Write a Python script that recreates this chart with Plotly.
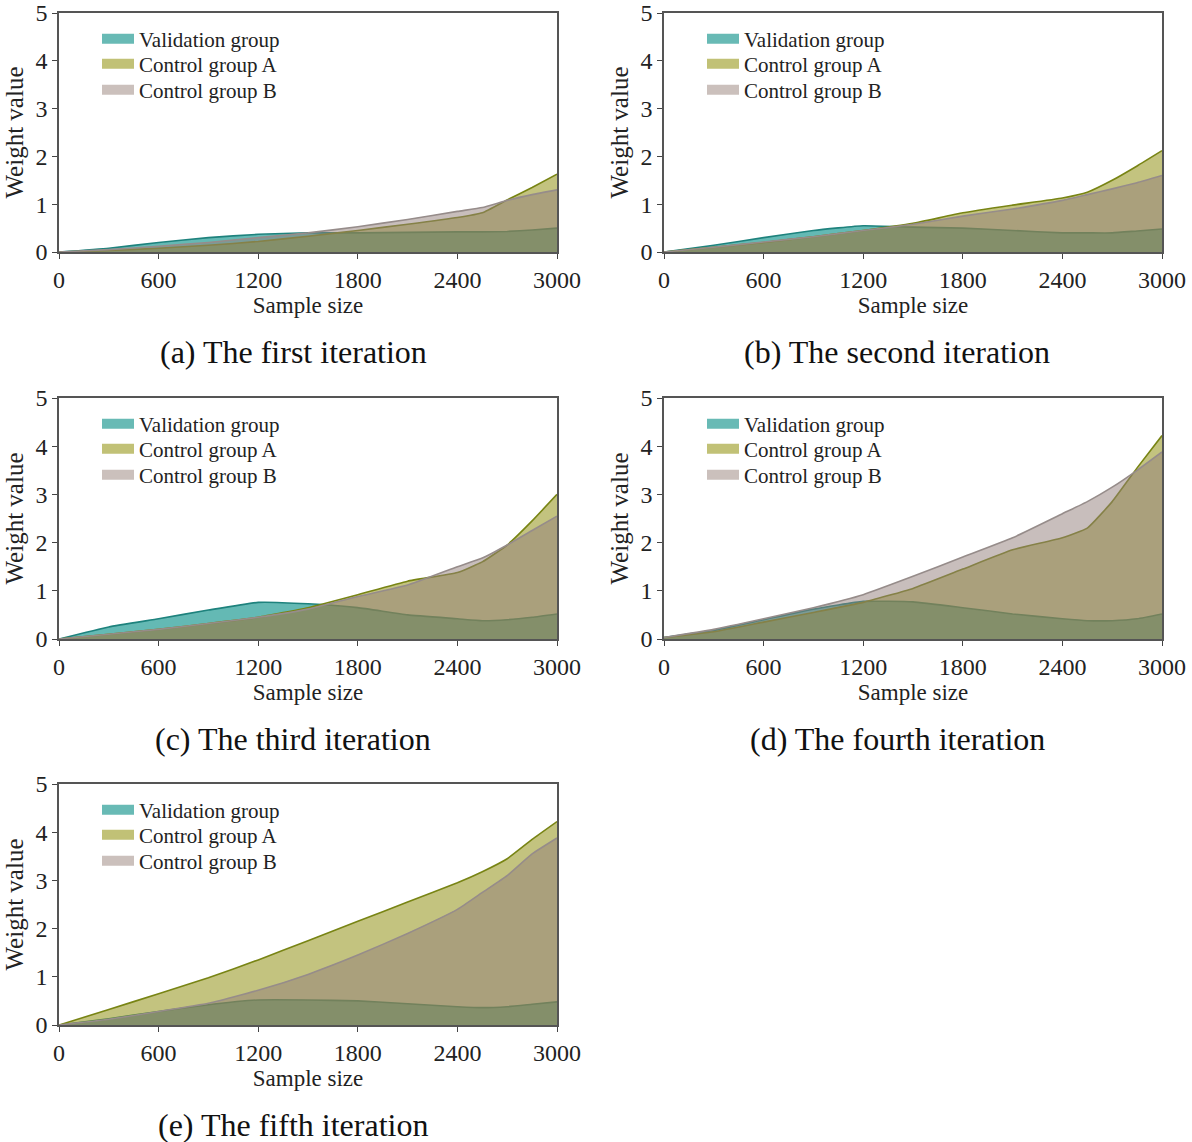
import plotly.graph_objects as go

# ---------------- data ----------------
sample_size = [0, 300, 600, 900, 1200, 1500, 1800, 2100, 2400, 2550, 2700, 2850, 3000]

series_names = ["Validation group", "Control group A", "Control group B"]

captions = ["(a) The first iteration", "(b) The second iteration", "(c) The third iteration",
            "(d) The fourth iteration", "(e) The fifth iteration"]

# (a) first iteration
val_1 = [0, 0.08, 0.20, 0.30, 0.37, 0.40, 0.40, 0.41, 0.42, 0.42, 0.43, 0.46, 0.50]
ctlA_1 = [0, 0.03, 0.08, 0.14, 0.22, 0.33, 0.45, 0.58, 0.72, 0.82, 1.09, 1.35, 1.63]
ctlB_1 = [0, 0.05, 0.12, 0.20, 0.30, 0.40, 0.53, 0.68, 0.85, 0.93, 1.08, 1.20, 1.30]

# (b) second iteration
val_2 = [0, 0.14, 0.30, 0.45, 0.55, 0.52, 0.50, 0.45, 0.40, 0.40, 0.40, 0.44, 0.48]
ctlA_2 = [0, 0.10, 0.20, 0.32, 0.45, 0.60, 0.82, 0.98, 1.13, 1.25, 1.50, 1.80, 2.12]
ctlB_2 = [0, 0.10, 0.21, 0.32, 0.45, 0.58, 0.75, 0.90, 1.08, 1.20, 1.32, 1.45, 1.60]

# (c) third iteration
val_3 = [0, 0.25, 0.42, 0.60, 0.76, 0.73, 0.65, 0.50, 0.42, 0.38, 0.40, 0.45, 0.52]
ctlA_3 = [0, 0.10, 0.20, 0.32, 0.45, 0.65, 0.92, 1.20, 1.38, 1.60, 1.95, 2.45, 3.00]
ctlB_3 = [0, 0.10, 0.20, 0.32, 0.45, 0.62, 0.88, 1.12, 1.50, 1.68, 1.95, 2.25, 2.55]

# (d) fourth iteration
val_4 = [0.03, 0.18, 0.40, 0.62, 0.78, 0.77, 0.65, 0.52, 0.42, 0.38, 0.38, 0.42, 0.52]
ctlA_4 = [0.03, 0.15, 0.35, 0.55, 0.76, 1.05, 1.45, 1.85, 2.10, 2.30, 2.85, 3.55, 4.22]
ctlB_4 = [0.03, 0.20, 0.42, 0.65, 0.92, 1.30, 1.70, 2.10, 2.60, 2.85, 3.15, 3.50, 3.88]

# (e) fifth iteration
val_5 = [0, 0.13, 0.28, 0.42, 0.52, 0.52, 0.50, 0.44, 0.38, 0.36, 0.38, 0.43, 0.48]
ctlA_5 = [0, 0.32, 0.65, 0.98, 1.35, 1.75, 2.15, 2.55, 2.95, 3.18, 3.45, 3.85, 4.22]
ctlB_5 = [0, 0.12, 0.28, 0.45, 0.72, 1.05, 1.45, 1.90, 2.40, 2.75, 3.10, 3.55, 3.88]

x_ticks = [0, 600, 1200, 1800, 2400, 3000]
y_ticks = [0, 1, 2, 3, 4, 5]

panels = [
    (val_1, ctlA_1, ctlB_1),
    (val_2, ctlA_2, ctlB_2),
    (val_3, ctlA_3, ctlB_3),
    (val_4, ctlA_4, ctlB_4),
    (val_5, ctlA_5, ctlB_5),
]

# ---------------- style ----------------
W, H = 1192, 1142
FONT = "Liberation Serif"
fill_colors = ["rgba(17,148,140,0.65)", "rgba(135,135,0,0.5)", "rgba(145,125,121,0.5)"]
line_colors = ["rgb(30,130,125)", "rgb(120,132,20)", "rgb(150,140,138)"]
swatch_colors = ["rgb(104,186,181)", "rgb(193,193,118)", "rgb(203,192,188)"]

# plot-area pixel boxes (left, right, top, bottom)
boxes = [
    (59, 557, 13, 252),
    (664, 1162, 13, 252),
    (59, 557, 398, 639),
    (664, 1162, 398, 639),
    (59, 557, 784, 1025),
]
caption_pos = [(293, 352), (897, 352), (293, 739), (897, 739), (293, 1125)]
legend_row_offsets = [26, 51, 77]


def px_x(p):
    return p / W


def px_y(p):
    return 1 - p / H


fig = go.Figure()
layout = dict(
    width=W, height=H,
    margin=dict(l=0, r=0, t=0, b=0, autoexpand=False),
    paper_bgcolor="white", plot_bgcolor="white",
    font=dict(family=FONT, size=22, color="#222"),
    showlegend=True,
)

annotations = []
legend_idx = 0
for i, (vals, box) in enumerate(zip(panels, boxes)):
    n = i + 1
    xa = "x" if n == 1 else f"x{n}"
    ya = "y" if n == 1 else f"y{n}"
    l, r, t, b = box
    for k in range(3):
        fig.add_trace(go.Scatter(
            x=sample_size, y=vals[k], name=series_names[k],
            mode="lines", fill="tozeroy",
            fillcolor=fill_colors[k],
            line=dict(color=line_colors[k], width=1.6, shape="spline", smoothing=0.4),
            xaxis=xa, yaxis=ya, showlegend=False,
        ))
    # legend entries (one legend per row so rows sit where the reference puts them)
    for k in range(3):
        legend_idx += 1
        lg = "legend" if legend_idx == 1 else f"legend{legend_idx}"
        fig.add_trace(go.Scatter(
            x=[None], y=[None], name=series_names[k], mode="lines",
            line=dict(color=swatch_colors[k], width=18),
            xaxis=xa, yaxis=ya, legend=lg, showlegend=True, hoverinfo="skip",
        ))
        layout[lg] = dict(
            x=px_x(l + 38), y=px_y(t + legend_row_offsets[k]),
            xanchor="left", yanchor="middle",
            bgcolor="rgba(0,0,0,0)", borderwidth=0,
            font=dict(family=FONT, size=21, color="#222"),
            itemwidth=32,
        )
    xkey = "xaxis" if n == 1 else f"xaxis{n}"
    ykey = "yaxis" if n == 1 else f"yaxis{n}"
    layout[xkey] = dict(
        domain=[px_x(l), px_x(r)], anchor=ya, range=[0, 3000],
        tickvals=x_ticks, ticks="outside", ticklen=5, tickwidth=1.2, tickcolor="#444",
        showline=True, linecolor="#555", linewidth=1.5, mirror=True,
        showgrid=False, zeroline=False, automargin=False,
        tickfont=dict(family=FONT, size=24, color="#222"),
        title=dict(text="Sample size", font=dict(family=FONT, size=23, color="#222"), standoff=0),
    )
    layout[ykey] = dict(
        domain=[px_y(b), px_y(t)], anchor=xa, range=[0, 5],
        tickvals=y_ticks, ticks="outside", ticklen=5, tickwidth=1.2, tickcolor="#444",
        showline=True, linecolor="#555", linewidth=1.5, mirror=True,
        showgrid=False, zeroline=False, automargin=False,
        tickfont=dict(family=FONT, size=24, color="#222"),
        title=dict(text="Weight value", font=dict(family=FONT, size=25, color="#222"), standoff=5),
    )
    cx, cy = caption_pos[i]
    annotations.append(dict(
        text=captions[i], x=px_x(cx), y=px_y(cy), xref="paper", yref="paper",
        xanchor="center", yanchor="middle", showarrow=False,
        font=dict(family=FONT, size=32, color="#111"),
    ))

layout["annotations"] = annotations
fig.update_layout(**layout)
fig.write_html("out.html")
